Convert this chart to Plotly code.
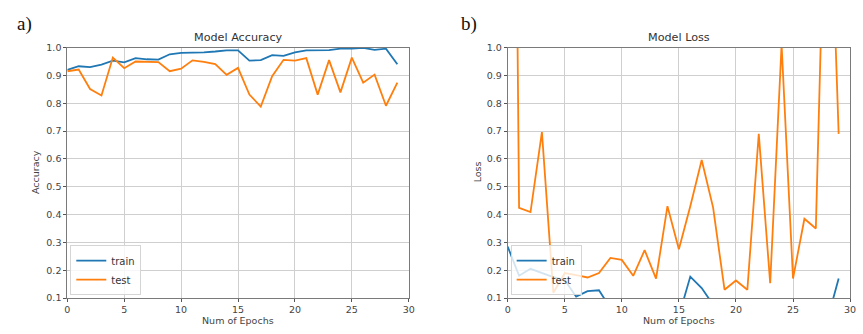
import plotly.graph_objects as go

epochs = list(range(30))

acc_train = [0.920, 0.933, 0.930, 0.939, 0.953, 0.947, 0.962, 0.958, 0.957, 0.976,
             0.981, 0.981, 0.983, 0.986, 0.990, 0.990, 0.953, 0.955, 0.973, 0.970,
             0.983, 0.990, 0.990, 0.991, 0.996, 0.996, 0.999, 0.992, 0.996, 0.940]
acc_test = [0.915, 0.921, 0.851, 0.828, 0.964, 0.926, 0.950, 0.950, 0.948, 0.915,
            0.924, 0.954, 0.949, 0.941, 0.902, 0.927, 0.831, 0.788, 0.897, 0.956,
            0.953, 0.962, 0.831, 0.955, 0.839, 0.964, 0.874, 0.903, 0.791, 0.874]

loss_train = [0.285, 0.180, 0.205, 0.190, 0.175, 0.165, 0.105, 0.125, 0.128, 0.064,
              0.060, 0.055, 0.050, 0.050, 0.045, 0.035, 0.177, 0.136, 0.076, 0.060,
              0.045, 0.035, 0.030, 0.030, 0.020, 0.020, 0.015, 0.025, 0.020, 0.170]
loss_test = [4.8, 0.424, 0.409, 0.696, 0.119, 0.190, 0.182, 0.174, 0.190, 0.244,
             0.237, 0.180, 0.272, 0.170, 0.430, 0.275, 0.430, 0.596, 0.425, 0.130,
             0.163, 0.130, 0.690, 0.153, 1.010, 0.170, 0.385, 0.350, 1.900, 0.690]

x_ticks = [0, 5, 10, 15, 20, 25, 30]
y_ticks = [0.1, 0.2, 0.3, 0.4, 0.5, 0.6, 0.7, 0.8, 0.9, 1.0]

W, H = 863, 334
BLUE = "#1f77b4"
ORANGE = "#ff7f0e"
FONT = "DejaVu Sans"

def px(x):
    return x / W

def py(y):
    return 1 - y / H

fig = go.Figure()

fig.add_trace(go.Scatter(x=epochs, y=acc_train, mode="lines", name="train",
                         line=dict(color=BLUE, width=1.8), xaxis="x", yaxis="y", legend="legend"))
fig.add_trace(go.Scatter(x=epochs, y=acc_test, mode="lines", name="test",
                         line=dict(color=ORANGE, width=1.8), xaxis="x", yaxis="y", legend="legend"))
fig.add_trace(go.Scatter(x=epochs, y=loss_train, mode="lines", name="train",
                         line=dict(color=BLUE, width=1.8), xaxis="x2", yaxis="y2", legend="legend2"))
fig.add_trace(go.Scatter(x=epochs, y=loss_test, mode="lines", name="test",
                         line=dict(color=ORANGE, width=1.8), xaxis="x2", yaxis="y2", legend="legend2"))

axis_common = dict(showline=True, mirror=True, linecolor="#7a7a7a", linewidth=1,
                   showgrid=True, gridcolor="#cfcfcf", gridwidth=1, zeroline=False,
                   ticks="outside", ticklen=3, tickcolor="#555", tickwidth=1,
                   tickfont=dict(family=FONT, size=9.5, color="#444"))

xd1 = [px(65), px(410)]
xd2 = [px(510), px(856)]
yd = [py(302), py(43)]

legend_common = dict(xanchor="left", yanchor="bottom",
                     bgcolor="rgba(255,255,255,0.8)", bordercolor="#d5d5d5", borderwidth=1,
                     font=dict(family=FONT, size=10, color="#333"), itemwidth=30,
                     tracegroupgap=0)

fig.update_layout(
    width=W, height=H,
    margin=dict(l=0, r=0, t=0, b=0),
    paper_bgcolor="white", plot_bgcolor="white",
    xaxis=dict(domain=xd1, range=[0, 30], tickvals=x_ticks, anchor="y", **axis_common),
    yaxis=dict(domain=yd, range=[0.1, 1.0], tickvals=y_ticks, tickformat=".1f", anchor="x", **axis_common),
    xaxis2=dict(domain=xd2, range=[0, 30], tickvals=x_ticks, anchor="y2", **axis_common),
    yaxis2=dict(domain=yd, range=[0.1, 1.0], tickvals=y_ticks, tickformat=".1f", anchor="x2", **axis_common),
    legend=dict(x=px(68), y=py(299), **legend_common),
    legend2=dict(x=px(513), y=py(299), **legend_common),
    showlegend=True,
)

annots = [
    dict(text="a)", x=px(12), y=py(19), xanchor="left", yanchor="middle",
         font=dict(family="Liberation Serif", size=19, color="#111")),
    dict(text="b)", x=px(461), y=py(19), xanchor="left", yanchor="middle",
         font=dict(family="Liberation Serif", size=19, color="#111")),
    dict(text="Model Accuracy", x=px(237.5), y=py(33), xanchor="center", yanchor="middle",
         font=dict(family=FONT, size=11.2, color="#333")),
    dict(text="Model Loss", x=px(683), y=py(33), xanchor="center", yanchor="middle",
         font=dict(family=FONT, size=11.2, color="#333")),
    dict(text="Num of Epochs", x=px(237.5), y=py(325), xanchor="center", yanchor="middle",
         font=dict(family=FONT, size=9.5, color="#444")),
    dict(text="Num of Epochs", x=px(683), y=py(325), xanchor="center", yanchor="middle",
         font=dict(family=FONT, size=9.5, color="#444")),
    dict(text="Accuracy", x=px(33), y=py(172), xanchor="center", yanchor="middle", textangle=-90,
         font=dict(family=FONT, size=9.5, color="#444")),
    dict(text="Loss", x=px(479), y=py(172), xanchor="center", yanchor="middle", textangle=-90,
         font=dict(family=FONT, size=9.5, color="#444")),
]
for a in annots:
    a.update(xref="paper", yref="paper", showarrow=False)
fig.update_layout(annotations=annots)

fig.write_html("out.html")
